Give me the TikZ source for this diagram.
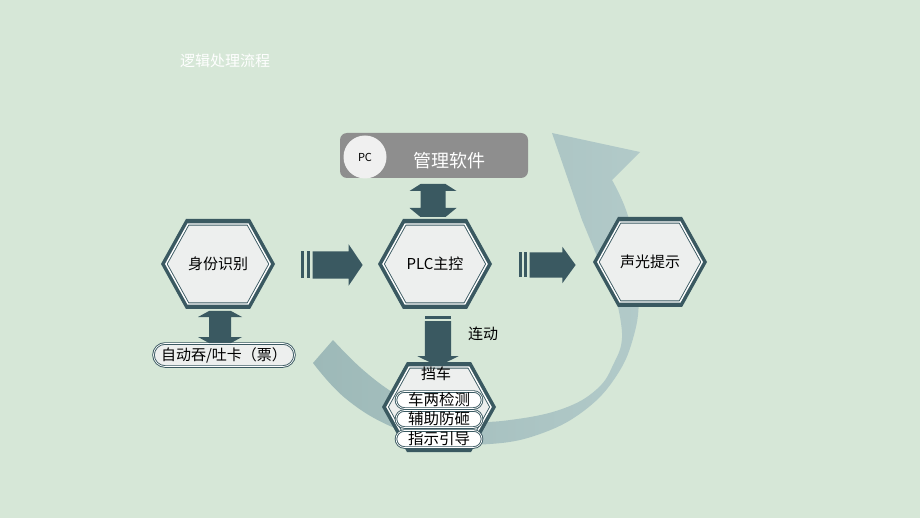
\documentclass[tikz,border=0pt]{standalone}
\usepackage{fontspec}
\setmainfont{Noto Sans CJK SC}
\usetikzlibrary{shapes.symbols, shapes.arrows, shapes.misc, positioning, backgrounds}

\definecolor{bgmint}{HTML}{D6E7D7}
\definecolor{slate}{HTML}{3A5961}
\definecolor{swooshdark}{HTML}{9DB9B8}
\definecolor{swooshlight}{HTML}{B2CAC9}
\definecolor{hexfill}{HTML}{EDEFEE}
\definecolor{pcgray}{HTML}{8E8E8E}

\begin{document}
\begin{tikzpicture}[
    x=1pt, y=-1pt,
    hexrim/.style = {signal, signal to=west and east, signal pointer angle=122,
                     minimum width=114pt, minimum height=90pt, inner sep=0pt, fill=slate},
    hexbox/.style = {signal, signal to=west and east, signal pointer angle=122,
                     minimum width=104pt, minimum height=80pt, inner sep=0pt,
                     fill=hexfill, draw=slate, line width=0.9pt, double=white, double distance=1.4pt,
                     font=\fontsize{15}{18}\selectfont},
    capsule/.style = {rounded rectangle, minimum width=86pt, minimum height=17pt, inner sep=0pt,
                      fill=white, draw=slate, line width=0.9pt, double=white, double distance=0.7pt,
                      font=\fontsize{15.5}{17}\selectfont},
    pcbox/.style = {rectangle, rounded corners=7pt, minimum width=188pt, minimum height=45pt,
                    fill=pcgray},
    flowarrow/.style = {single arrow, fill=slate, inner xsep=0pt},
    stripe/.style = {rectangle, fill=slate, inner sep=0pt},
    label/.style = {font=\fontsize{15}{18}\selectfont}
]

% Background
\fill[bgmint] (0,0) rectangle (920,518);
\useasboundingbox (0,0) rectangle (920,518);

% Curved swoosh behind everything
\shade[left color=swooshdark, right color=swooshlight]
    plot[smooth, tension=0.7] coordinates {(313,363) (345,398) (390,426) (440,441) (490,444)
        (540,434) (585,410) (617,375) (634,335) (639,295) (636,250) (626,210) (612,180)}
    -- (640,152) -- (552,133) -- (582,220)
    -- plot[smooth, tension=0.7] coordinates {(618,307) (622,338) (614,363) (597,389) (562,409)
        (510,420) (470,421) (430,413) (395,394) (362,369) (333,340)}
    -- cycle;

% Title
\node (title) [label, white] at (225,61) {逻辑处理流程};

% PC management software
\node (pc) [pcbox] at (434,155.5) {};
\node (pcdisc) [circle, fill=gray!12, minimum size=43pt, inner sep=0pt,
                font=\fontsize{11}{12}\selectfont] at (365,157) {PC};
\node (pclabel) [white, font=\fontsize{18}{20}\selectfont] at (449,161) {管理软件};

% Hexagons: dark rim first, then the framed face
\foreach \rim/\x/\y in {idrim/218/264, plcrim/435/264, alarmrim/650/262, gaterim/439/407}
    \node (\rim) [hexrim] at (\x,\y) {};
\node (idcheck) [hexbox] at (idrim) {身份识别};
\node (plc) [hexbox] at (plcrim) {PLC主控};
\node (alarm) [hexbox] at (alarmrim) {声光提示};
\node (gate) [hexbox] at (gaterim) {};
\node (gatelabel) [label] at (436,374) {挡车};

% Capsules
\node (ticket) [capsule, fill=hexfill, minimum width=141pt, minimum height=23pt,
                font=\fontsize{15}{18}\selectfont] at (224,355) {自动吞/吐卡（票）};
\node (detect) [capsule] at (439,400) {车两检测};
\node (guard) [capsule] at (439,419) {辅助防砸};
\node (guide) [capsule] at (439,439) {指示引导};

% Block arrows
\node (arrA) [flowarrow, minimum height=50pt, inner ysep=13.5pt,
              single arrow head extend=7pt, single arrow tip angle=112] at (333,265) {};
\node (arrAs1) [stripe, minimum width=3.5pt, minimum height=27pt, left=2pt of arrA.tail] {};
\node (arrAs2) [stripe, minimum width=3pt, minimum height=27pt, left=2pt of arrAs1] {};

\node (arrB) [flowarrow, minimum height=46pt, inner ysep=12.5pt,
              single arrow head extend=5.5pt, single arrow tip angle=108] at (548,265) {};
\node (arrBs1) [stripe, minimum width=3pt, minimum height=25pt, left=2pt of arrB.tail] {};
\node (arrBs2) [stripe, minimum width=3pt, minimum height=25pt, left=2pt of arrBs1] {};

\node (arrC) [flowarrow, rotate=-90, minimum height=45pt, inner ysep=13pt,
              single arrow head extend=7.5pt, single arrow tip angle=128] at (438,340.5) {};
\node (arrCs1) [stripe, minimum width=26pt, minimum height=3pt, above=2pt of arrC.tail] {};
\node (linklabel) [label] at (483,334) {连动};

% Two-way arrows
\coordinate (pclink) at (433,184);
\fill[slate] (pclink) ++(-12.5,0) -- ++(25,0) -- ++(11,7) -- ++(-11,0) -- ++(0,17) -- ++(11,0)
    -- ++(-11,9) -- ++(-25,0) -- ++(-11,-9) -- ++(11,0) -- ++(0,-17) -- ++(-11,0) -- cycle;
\coordinate (idlink) at (220,311);
\fill[slate] (idlink) ++(-11,0) -- ++(22,0) -- ++(11,6) -- ++(-11,0) -- ++(0,20) -- ++(11,0)
    -- ++(-11,6) -- ++(-22,0) -- ++(-11,-6) -- ++(11,0) -- ++(0,-20) -- ++(-11,0) -- cycle;

\end{tikzpicture}
\end{document}
